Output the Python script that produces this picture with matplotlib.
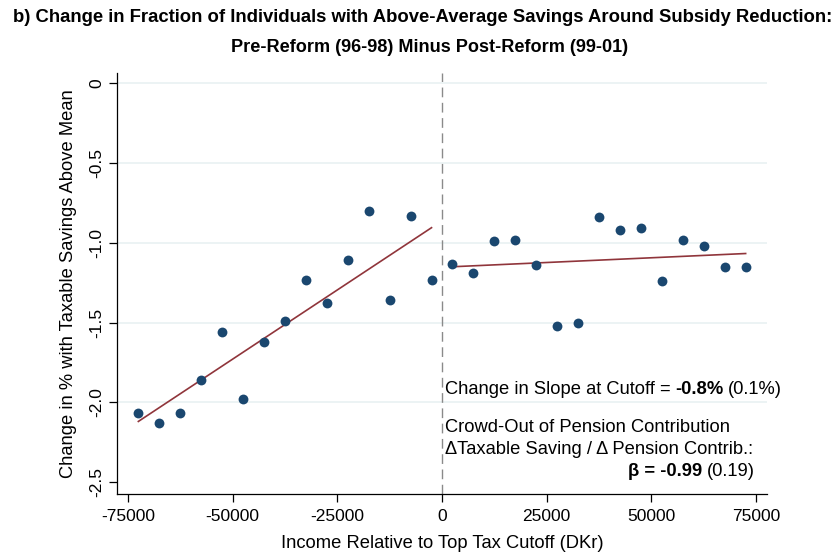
import numpy as np
import matplotlib
matplotlib.use("Agg")
import matplotlib.pyplot as plt

plt.rcParams['font.family'] = ['Liberation Sans', 'DejaVu Sans']
plt.rcParams['axes.unicode_minus'] = False

# binned scatter (bin centres in DKr, change in % above mean)
x_left = [-72500, -67500, -62500, -57500, -52500, -47500, -42500, -37500,
          -32500, -27500, -22500, -17500, -12500, -7500, -2500]
y_left = [-2.07, -2.13, -2.07, -1.86, -1.56, -1.98, -1.62, -1.49,
          -1.23, -1.38, -1.11, -0.80, -1.36, -0.83, -1.23]
x_right = [2500, 7500, 12500, 17500, 22500, 27500, 32500, 37500,
           42500, 47500, 52500, 57500, 62500, 67500, 72500]
y_right = [-1.13, -1.19, -0.99, -0.98, -1.14, -1.52, -1.50, -0.835,
           -0.92, -0.91, -1.24, -0.98, -1.02, -1.15, -1.15]

# fitted lines (end points)
fit_left_x = [-72500, -2500]
fit_left_y = [-2.12, -0.905]
fit_right_x = [2500, 72500]
fit_right_y = [-1.15, -1.067]

xticks = [-75000, -50000, -25000, 0, 25000, 50000, 75000]
yticks = [0, -0.5, -1.0, -1.5, -2.0, -2.5]
ytick_labels = ["0", "-0.5", "-1.0", "-1.5", "-2.0", "-2.5"]

W, H = 839, 559
fig = plt.figure(figsize=(W / 100, H / 100), dpi=100)
ax = fig.add_axes([117 / W, (H - 494) / H, (767 - 117) / W, (494 - 73) / H])

navy = '#1a476f'
maroon = '#90353b'
fs = 12.5   # tick labels
fs2 = 13.2  # axis titles and notes

for yv in yticks[:-1]:
    ax.axhline(yv, color='#eaf2f3', lw=1.3, zorder=0)
ax.axvline(0, color='#8a8a8a', lw=1, ls=(0, (7, 4)), zorder=1)

ax.scatter(x_left, y_left, s=50, color=navy, zorder=3, linewidths=0)
ax.scatter(x_right, y_right, s=50, color=navy, zorder=3, linewidths=0)
ax.plot(fit_left_x, fit_left_y, color=maroon, lw=1.2, zorder=2)
ax.plot(fit_right_x, fit_right_y, color=maroon, lw=1.2, zorder=2)

ax.set_xlim(-77600, 77600)
ax.set_ylim(-2.575, 0.065)
ax.set_xticks(xticks)
ax.set_xticklabels([str(v) for v in xticks], fontsize=fs)
ax.set_yticks(yticks)
ax.set_yticklabels(ytick_labels, fontsize=fs, rotation=90, va='center')
ax.tick_params(direction='out', length=6, width=0.9, pad=5)
ax.tick_params(axis='y', pad=3)
for side in ['top', 'right']:
    ax.spines[side].set_visible(False)
for side in ['left', 'bottom']:
    ax.spines[side].set_linewidth(0.9)

ax.set_xlabel("Income Relative to Top Tax Cutoff (DKr)", fontsize=fs2, labelpad=8)
ax.set_ylabel("Change in % with Taxable Savings Above Mean", fontsize=fs2, labelpad=9)

fig.text(423 / W, 1 - 18 / H,
         "b) Change in Fraction of Individuals with Above-Average Savings Around Subsidy Reduction:",
         fontsize=13.3, fontweight='bold', ha='center', va='center')
fig.text(430 / W, 1 - 47 / H, "Pre-Reform (96-98) Minus Post-Reform (99-01)",
         fontsize=13.1, fontweight='bold', ha='center', va='center')

renderer = fig.canvas.get_renderer()
gap = 4.5


def text_parts(x_px, y_px, parts, align='left'):
    objs = []
    for s, w in parts:
        objs.append(fig.text(0, 1 - y_px / H, s, fontsize=fs2, fontweight=w,
                             ha='left', va='center'))
    widths = [o.get_window_extent(renderer).width for o in objs]
    total = sum(widths) + gap * (len(objs) - 1)
    cur = x_px if align == 'left' else x_px - total
    for o, w in zip(objs, widths):
        o.set_x(cur / W)
        cur += w + gap


text_parts(445, 390, [("Change in Slope at Cutoff =", 'normal'), ("-0.8%", 'bold'),
                      ("(0.1%)", 'normal')])
fig.text(445 / W, 1 - 427 / H, "Crowd-Out of Pension Contribution",
         fontsize=fs2, ha='left', va='center')
fig.text(445 / W, 1 - 450 / H, "\u0394Taxable Saving / \u0394 Pension Contrib.:",
         fontsize=fs2, ha='left', va='center')
text_parts(755, 472, [("\u03b2 = -0.99", 'bold'), ("(0.19)", 'normal')], align='right')

fig.savefig("out.png", dpi=100)
